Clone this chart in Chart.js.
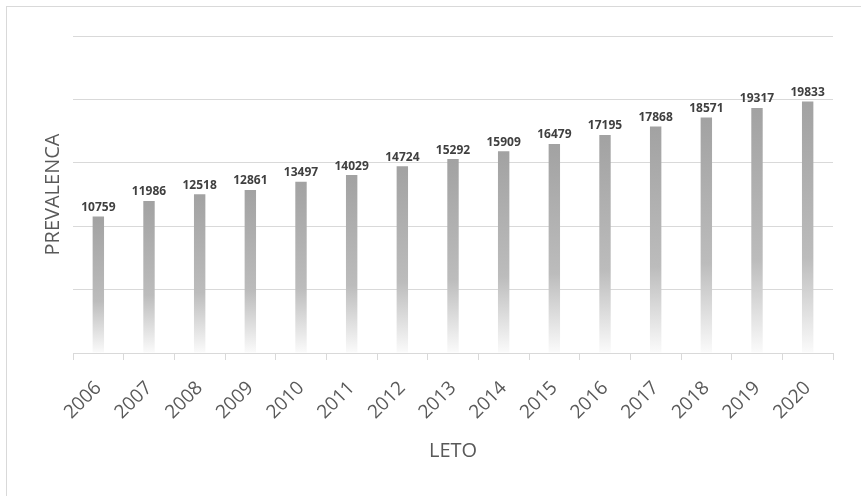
<!DOCTYPE html>
<html>
<head>
<meta charset="utf-8">
<title>Prevalenca</title>
<script src="https://cdn.jsdelivr.net/npm/chart.js@4.4.1/dist/chart.umd.min.js"></script>
<style>
    html, body { margin: 0; padding: 0; background: #fff; overflow: hidden; }
    #wrap { position: relative; width: 861px; height: 496px; overflow: hidden; }
    #frame { position: absolute; left: 6px; top: 6px; width: 900px; height: 540px;
             border: 1px solid #d9d9d9; box-sizing: border-box; }
    #chart { position: absolute; left: 0; top: 0; }
</style>
</head>
<body>
<div id="wrap">
    <div id="frame"></div>
    <canvas id="chart" width="861" height="496"></canvas>
</div>
<script>
    // data
    var years = ['2006', '2007', '2008', '2009', '2010', '2011', '2012', '2013',
                 '2014', '2015', '2016', '2017', '2018', '2019', '2020'];
    var prevalence = [10759, 11986, 12518, 12861, 13497, 14029, 14724, 15292,
                      15909, 16479, 17195, 17868, 18571, 19317, 19833];
    var yMin = 0, yMax = 25000, yStep = 5000;

    Chart.defaults.font.family = "'Open Sans', sans-serif";

    var barGradient = function(ctx) {
        var chart = ctx.chart;
        if (!chart.chartArea || ctx.type !== 'data') return '#a6a6a6';
        var y = chart.scales.y;
        var top = y.getPixelForValue(ctx.raw),
            bottom = y.getPixelForValue(0);
        var g = chart.ctx.createLinearGradient(0, top, 0, bottom);
        g.addColorStop(0, '#a2a2a2');
        g.addColorStop(0.62, '#bcbcbc');
        g.addColorStop(1, '#fbfbfb');
        return g;
    };

    // draws the value above each bar
    var valueLabels = {
        id: 'valueLabels',
        afterDatasetsDraw: function(chart) {
            var c = chart.ctx;
            var meta = chart.getDatasetMeta(0);
            c.save();
            c.font = "bold 12px 'Open Sans', sans-serif";
            c.fillStyle = '#404040';
            c.textAlign = 'center';
            c.textBaseline = 'bottom';
            for (var i = 0; i < meta.data.length; ++i) {
                c.fillText(String(prevalence[i]), meta.data[i].x, meta.data[i].y - 3);
            }
            c.restore();
        }
    };

    var chart = new Chart(document.getElementById('chart'), {
        type: 'bar',
        data: {
            labels: years,
            datasets: [{
                data: prevalence,
                backgroundColor: barGradient,
                borderWidth: 0,
                barPercentage: 0.9,
                categoryPercentage: 0.25
            }]
        },
        options: {
            responsive: false,
            animation: false,
            layout: { padding: { left: 41, right: 28, top: 36, bottom: 33 } },
            plugins: { legend: { display: false }, tooltip: { enabled: false } },
            scales: {
                x: {
                    grid: { drawOnChartArea: false, drawTicks: true, tickLength: 7, color: '#d9d9d9' },
                    border: { color: '#d9d9d9', width: 1 },
                    ticks: { minRotation: 45, maxRotation: 45, padding: 17,
                             color: '#595959', font: { size: 19 } },
                    title: { display: true, text: 'LETO', color: '#595959',
                             font: { size: 20 }, padding: { top: 0, bottom: 0 } },
                    afterFit: function(scale) { scale.height = 110; }
                },
                y: {
                    min: yMin, max: yMax,
                    ticks: { display: false, stepSize: yStep },
                    grid: { color: '#d9d9d9', drawTicks: false },
                    border: { display: false },
                    title: { display: true, text: 'PREVALENCA', color: '#595959',
                             font: { size: 20 }, padding: { top: 0, bottom: 0 } },
                    afterFit: function(scale) { scale.width = 32; }
                }
            }
        },
        plugins: [valueLabels]
    });
</script>
</body>
</html>
